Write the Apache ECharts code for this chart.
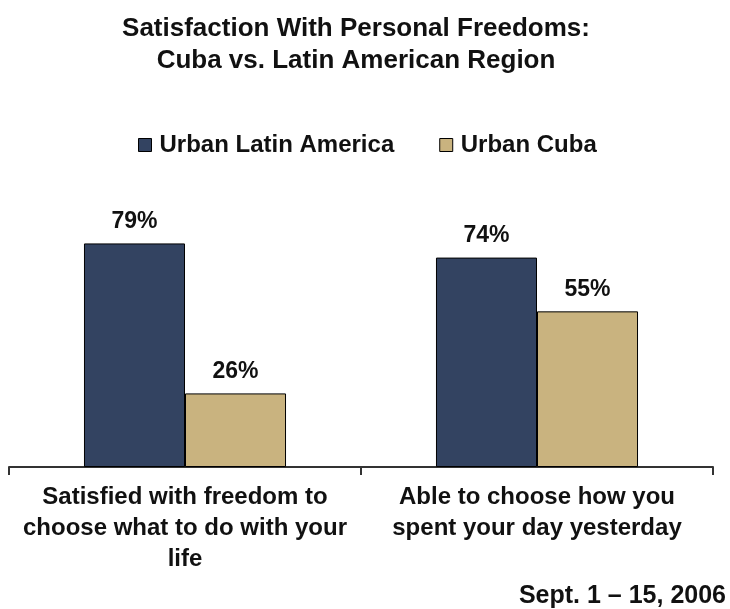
<!DOCTYPE html>
<html>
<head>
<meta charset="utf-8">
<script src="https://cdn.jsdelivr.net/npm/echarts@6/dist/echarts.min.js"></script>
<style>
html,body{margin:0;padding:0;background:#fff;}
#chart{width:730px;height:609px;}
</style>
</head>
<body>
<div id="chart"></div>
<script>
const titleLines = ["Satisfaction With Personal Freedoms:", "Cuba vs. Latin American Region"];
const categories = ["Satisfied with freedom to\nchoose what to do with your\nlife", "Able to choose how you\nspent your day yesterday"];
const seriesNames = ["Urban Latin America", "Urban Cuba"];
const latinAmerica = [79, 74];
const cuba = [26, 55];
const dateNote = "Sept. 1 \u2013 15, 2006";

const FONT = '"Liberation Sans", Arial, sans-serif';
const chart = echarts.init(document.getElementById('chart'), null, {renderer: 'canvas'});
chart.setOption({
  animation: false,
  backgroundColor: '#ffffff',
  textStyle: {fontFamily: FONT},
  graphic: [
    {type: 'text', x: 356, y: 29, style: {text: titleLines[0], font: 'bold 26px ' + FONT, fill: '#111', textAlign: 'center', textVerticalAlign: 'middle'}},
    {type: 'text', x: 356, y: 61, style: {text: titleLines[1], font: 'bold 26px ' + FONT, fill: '#111', textAlign: 'center', textVerticalAlign: 'middle'}},
    {type: 'text', x: 726, y: 596, style: {text: dateNote, font: 'bold 25px ' + FONT, fill: '#111', textAlign: 'right', textVerticalAlign: 'middle'}}
  ],
  legend: {
    left: 133, top: 128,
    itemWidth: 13, itemHeight: 13, itemGap: 45,
    icon: 'rect',
    itemStyle: {borderColor: '#000', borderWidth: 1},
    textStyle: {fontSize: 24, fontWeight: 'bold', color: '#111', fontFamily: FONT, padding: [0, 0, 0, 3]},
    data: seriesNames
  },
  grid: {left: 9, right: 17, top: 184, bottom: 142, containLabel: false},
  xAxis: {
    type: 'category',
    data: categories,
    axisLine: {lineStyle: {color: '#333', width: 2}},
    axisTick: {show: true, length: 8, lineStyle: {color: '#333', width: 2}},
    axisLabel: {interval: 0, margin: 15, fontSize: 24, fontWeight: 'bold', lineHeight: 31, color: '#111', fontFamily: FONT}
  },
  yAxis: {type: 'value', min: 0, max: 100, show: false, splitLine: {show: false}},
  series: [
    {
      name: seriesNames[0], type: 'bar', data: latinAmerica,
      barGap: '0%', barCategoryGap: '42.6%',
      itemStyle: {color: '#334361', borderColor: '#000', borderWidth: 1},
      label: {show: true, position: 'top', distance: 10, formatter: '{c}%', fontSize: 23, fontWeight: 'bold', color: '#111', fontFamily: FONT}
    },
    {
      name: seriesNames[1], type: 'bar', data: cuba,
      itemStyle: {color: '#C9B37F', borderColor: '#000', borderWidth: 1},
      label: {show: true, position: 'top', distance: 10, formatter: '{c}%', fontSize: 23, fontWeight: 'bold', color: '#111', fontFamily: FONT}
    }
  ]
});
</script>
</body>
</html>
